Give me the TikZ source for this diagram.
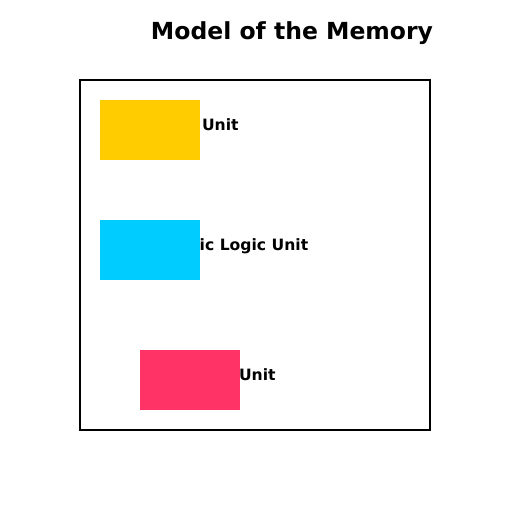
\documentclass[tikz,border=0pt]{standalone}
\usepackage{fontspec}
\setmainfont{DejaVu Sans}
\definecolor{unitgold}{HTML}{FFCC00}
\definecolor{unitcyan}{HTML}{00CCFF}
\definecolor{unitpink}{HTML}{FF3366}
\begin{document}
\begin{tikzpicture}
[x=1pt,y=-1pt,
  unitdecorate/.style={shape=rectangle,inner sep=0pt,minimum width=100pt,minimum height=60pt},%
  labeldecorate/.style={anchor=base east,inner sep=0pt,font=\bfseries\fontsize{15.6}{19}\selectfont},%
  titledecorate/.style={anchor=base,inner sep=0pt,font=\bfseries\fontsize{23.5}{28}\selectfont}]
\useasboundingbox (0,0) rectangle (512,512);
%% title and frame
\node (title) at (292,39) [titledecorate] {Model of the Memory};
\node (frame) at (255,255) [draw,line width=2pt,inner sep=0pt,minimum width=350pt,minimum height=350pt] {};
%% units with their labels
\foreach \nodename/\colour/\x/\y/\labelx/\labeltext in {control/unitgold/150/130/238.8/Control Unit,
  alu/unitcyan/150/250/308.4/Arithmetic Logic Unit, memory/unitpink/190/380/275.8/Memory Unit}
{
  \node (\nodename label) at (\labelx,\y+0.5) [labeldecorate] {\labeltext};
  \node (\nodename) at (\x,\y) [unitdecorate,fill=\colour] {};
}
\end{tikzpicture}
\end{document}
